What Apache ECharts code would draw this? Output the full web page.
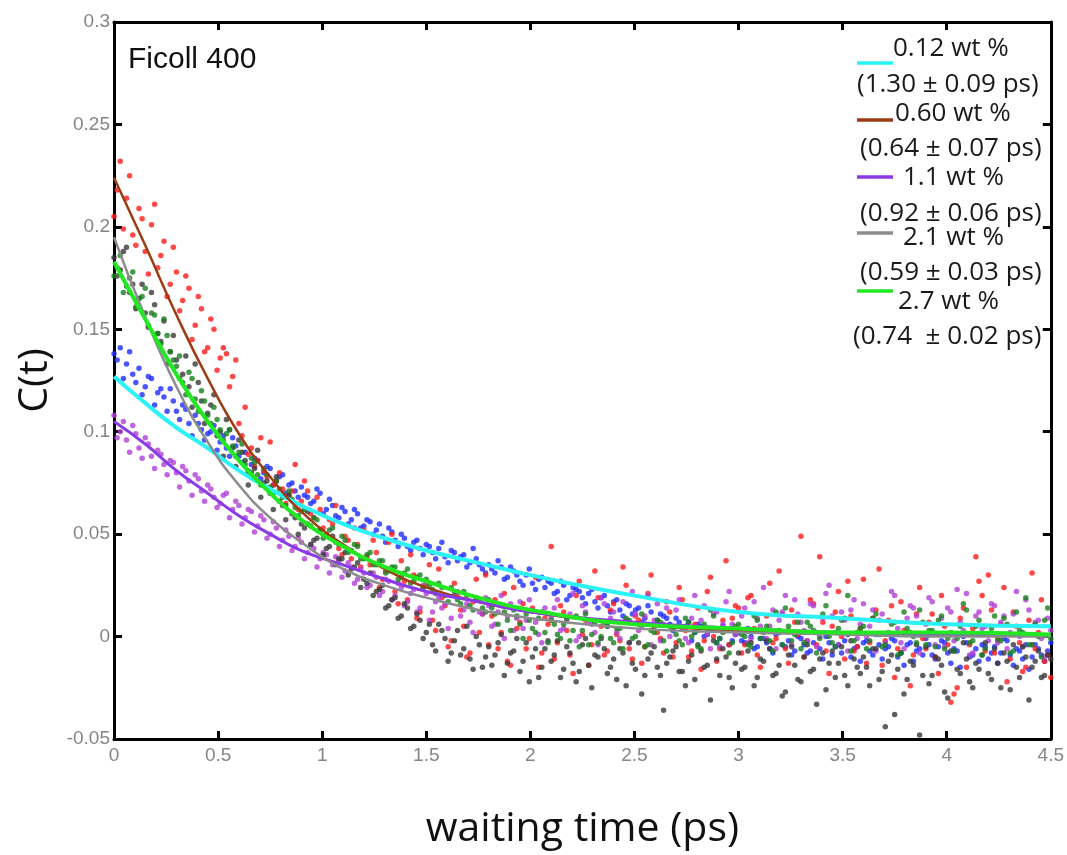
<!DOCTYPE html>
<html>
<head>
<meta charset="utf-8">
<script src="https://cdn.jsdelivr.net/npm/echarts@6/dist/echarts.min.js"></script>
<style>
html,body{margin:0;padding:0;background:#fff;}
#chart{width:1067px;height:855px;}
</style>
</head>
<body>
<div id="chart"></div>
<script>
// ---- data: scatter values in units of 0.001 ----
// set A sampled at t = 0, 0.03, ... 4.5 ps ; set B sampled at t = 0.015, 0.045, ... 4.485 ps
const sampleStep = 0.03;
const offsetA = 0;
const offsetB = 0.015;

const blue012A = [
138,141,133,128,131,122,126,119,117,121,
110,113,104,108,101,99,103,95,92,97,
88,90,84,86,80,82,76,79,74,71,
73,68,66,70,62,64,58,61,57,60,
54,56,52,49,53,47,50,44,46,43,
45,41,43,39,42,37,40,36,38,33,
35,31,34,29,32,27,30,26,28,24,
26,22,25,20,23,19,21,17,19,15,
17,13,16,11,14,9,12,8,10,6,
9,4,7,2,5,1,4,-1,3,-2,
2,-3,0,-5,-1,-6,1,-4,-2,-7,
-1,-8,-3,-6,0,-9,-4,-2,-10,-5,
-3,-7,1,-11,-5,-2,-8,-4,-12,-6,
-1,-9,-5,-3,-13,-7,0,-10,-6,-4,
-11,-5,-8,-2,-14,-7,-4,-10,-6,-12,-3];
const blue012B = [
135,126,139,124,118,127,113,121,110,115,
106,111,98,104,96,100,91,98,88,93,
85,81,87,77,83,74,78,70,75,68,
69,65,72,60,67,59,63,55,62,53,
57,50,55,46,51,44,48,42,47,40,
44,38,46,36,41,39,34,43,35,31,
33,37,28,34,30,25,33,23,29,27,
21,27,18,24,22,16,23,14,20,12,
18,10,15,13,7,15,5,11,9,3,
7,5,-2,6,0,3,-3,5,-4,1,
-2,4,-6,-1,-3,-8,2,-5,-9,0,
-4,-7,2,-11,-3,-5,-8,1,-6,-12,
-2,-9,-4,-6,-1,-10,-14,-3,-7,-9,
-4,-11,-2,-8,-6,-15,-3,-9,-12,-5,
-8,-13,-1,-9,-6,-11,-16,-4,-9,-7];

const red060A = [
205,232,214,196,209,188,201,180,193,172,
178,164,170,152,160,141,150,136,138,127,
104,112,92,86,81,95,76,72,69,84,
66,71,58,62,50,55,43,49,38,45,
52,35,41,28,46,22,37,18,30,12,
26,8,33,15,-2,21,5,-8,28,11,
-4,18,2,-12,24,7,-6,14,-15,9,
44,-3,12,-9,20,1,-14,32,5,-7,
16,-2,25,-11,8,-5,30,2,-8,12,
-3,18,-10,6,-16,22,0,-6,37,9,
14,-4,20,-9,3,26,-1,11,-13,7,
49,-2,16,39,-7,5,22,-11,10,-5,
28,-3,13,-14,8,-20,17,2,-9,24,
-6,11,-18,5,-32,-25,14,-4,39,20,
30,-8,6,-22,12,-3,-15,31,2,-12,-20];
const red060B = [
218,199,225,191,204,177,211,186,166,190,
159,176,145,166,139,155,130,141,122,135,
98,89,83,97,78,74,80,65,71,62,
76,60,68,53,57,64,40,47,53,34,
39,47,24,32,50,16,27,40,9,24,
35,3,19,-5,26,13,-10,17,2,30,
10,-6,21,-14,4,16,-1,29,-8,6,
-11,15,3,-18,27,8,-4,19,-9,13,
1,34,-6,10,-13,21,5,-1,17,-10,
24,3,-7,14,-2,29,-12,8,-4,15,
-8,19,4,-15,10,-3,32,-6,13,1,
-10,18,-4,7,-18,12,0,27,-7,4,
-13,9,33,-2,15,-6,3,-24,11,-1,
7,-10,20,-4,-28,9,-15,4,27,-7,
13,-2,24,-11,5,-17,8,-6,18,-9];

const purple11A = [
108,100,96,103,92,97,88,91,84,86,
80,83,76,79,71,74,68,65,70,62,
64,58,61,54,57,50,53,47,49,44,
46,41,43,38,40,35,37,32,34,28,
31,25,29,22,27,20,24,17,23,14,
21,12,19,16,9,22,13,7,18,11,
15,6,20,10,3,17,8,13,1,14,
9,18,4,11,-2,15,7,2,19,5,
12,-1,8,22,3,10,-4,16,6,0,
13,4,-3,20,8,1,11,-5,17,6,
2,14,-1,9,24,5,-6,12,3,18,
7,-2,15,0,21,10,-4,8,13,-1,
16,5,-7,11,2,20,-3,9,14,-8,
6,17,1,-5,12,23,3,-9,10,4,
-2,15,7,-6,11,0,18,-4,8,-10,3];
const purple11B = [
97,105,90,99,87,94,82,89,79,85,
73,81,69,77,66,72,63,69,58,66,
55,62,51,59,48,56,44,52,42,48,
38,45,34,41,31,39,29,36,26,33,
24,31,20,28,18,26,15,21,12,25,
8,17,14,4,20,10,16,2,12,19,
5,12,-1,16,9,4,18,7,-3,11,
14,3,8,21,0,12,6,-4,16,9,
2,17,-3,11,5,20,8,-2,14,4,
18,-1,9,3,15,-6,12,6,22,1,
10,-3,17,5,-1,13,8,20,-4,11,
3,16,-5,9,25,2,12,-7,18,6,
0,13,8,-3,22,4,-6,15,10,1,
19,-4,9,14,-2,7,21,-8,12,5,
16,-3,10,2,22,-5,13,7,-1,9];

const gray21A = [
185,179,190,172,165,158,168,148,154,139,
135,128,122,133,115,109,118,100,106,92,
96,86,80,91,75,70,78,64,69,58,
55,61,47,52,43,49,38,41,33,36,
28,31,22,25,15,19,10,14,5,8,
2,-4,6,-1,-8,3,-6,-11,0,-15,
-5,-9,1,-13,-7,-17,-3,-10,-20,-6,
-12,-2,-16,-8,-22,-4,-14,-9,-1,-18,
-11,-6,-24,-13,-3,-19,-8,-15,-36,-10,
-5,-17,-12,-21,-7,-14,-2,-19,-10,-25,
-8,-15,-3,-20,-12,-6,-18,-29,-9,-14,
-22,-4,-16,-11,-26,-7,-13,-19,-2,-15,
-10,-24,-6,-17,-12,-38,-8,-21,-14,-48,
-5,-19,-11,-27,-7,-16,-3,-22,-13,-9,
-18,-6,-25,-12,-4,-20,-10,-15,-7,-19,-11];
const gray21B = [
176,188,168,160,172,151,162,144,133,147,
126,137,112,124,104,113,98,88,101,83,
90,74,82,68,76,62,66,57,60,50,
53,45,48,40,44,35,38,30,34,24,
26,20,23,14,18,9,16,4,11,-1,
6,-7,3,-12,-2,-9,5,-16,-4,-10,
-14,-3,-19,-8,-1,-12,-22,-6,-15,-2,
-9,-20,-5,-13,-17,-1,-25,-10,-6,-15,
-21,-8,-3,-16,-28,-11,-5,-19,-13,-7,
-17,-24,-9,-4,-15,-31,-11,-6,-20,-13,
-16,-7,-24,-11,-2,-19,-14,-27,-5,-21,
-10,-17,-33,-8,-13,-20,-5,-24,-11,-18,
-15,-6,-21,-44,-9,-16,-28,-12,-4,-19,
-23,-10,-14,-30,-7,-18,-11,-25,-16,-3,
-21,-13,-8,-26,-15,-5,-31,-12,-20,-9];

const green27A = [
176,186,171,178,165,170,158,148,155,139,
132,124,129,116,120,108,112,101,99,93,
90,84,87,79,82,73,76,68,71,63,
61,55,58,52,49,53,45,47,42,44,
38,41,35,37,32,34,29,33,27,30,
28,23,26,20,24,18,22,15,19,14,
18,11,15,8,13,6,11,4,9,2,
8,1,6,-2,10,3,-4,7,0,5,
-3,4,9,-1,6,-5,3,8,-2,5,
1,-4,7,2,-6,4,10,-1,3,-3,
6,0,-5,8,2,-2,12,-4,5,1,
-6,7,3,-1,15,-3,4,9,-7,2,
5,-2,11,-5,1,7,-8,4,0,13,
-4,3,8,-6,2,-1,16,-3,5,-9,
1,10,-2,6,-7,3,19,-4,0,8,-1];
const green27B = [
180,168,175,161,166,152,157,143,147,135,
137,118,126,110,115,104,106,96,101,88,
94,80,85,74,79,70,72,64,67,59,
62,54,57,48,52,46,49,41,45,38,
40,35,37,31,34,28,31,26,29,24,
25,21,24,17,22,16,20,13,18,12,
14,6,12,3,10,-1,8,2,12,-3,
6,-1,9,3,-5,11,1,-3,7,-1,
4,-6,8,0,11,-4,2,7,-7,4,
-2,9,0,-5,6,13,-3,2,-8,5,
1,-4,10,-1,5,-7,3,14,-2,7,
-3,5,-8,11,0,-5,8,20,-2,4,
-6,9,1,-4,6,-9,12,2,-3,7,
3,-5,10,-1,-7,5,13,-2,8,-6,
4,-1,9,-8,12,2,-4,6,-10,14];

// fitted curves
const fitTimes  = [0, 0.15, 0.3, 0.45, 0.6, 0.75, 0.9, 1.1, 1.3, 1.5, 1.75, 2, 2.5, 3, 3.5, 4, 4.5];
const fitCyan   = [0.127,0.114,0.102,0.092,0.081,0.072,0.064,0.055,0.048,0.042,0.036,0.030,0.020,0.012,0.009,0.006,0.005];
const fitBrown  = [0.224,0.191,0.157,0.126,0.099,0.078,0.061,0.045,0.033,0.024,0.017,0.012,0.006,0.003,0.002,0.001,0.001];
const fitPurple = [0.105,0.094,0.081,0.070,0.059,0.050,0.042,0.035,0.028,0.022,0.017,0.012,0.007,0.004,0.002,0.001,0.001];
const fitGray   = [0.195,0.156,0.122,0.095,0.074,0.058,0.046,0.033,0.025,0.019,0.013,0.009,0.004,0.002,0.001,0.000,0.000];
const fitGreen  = [0.183,0.155,0.128,0.105,0.086,0.070,0.057,0.044,0.034,0.027,0.019,0.013,0.006,0.004,0.002,0.002,0.001];

const legendLabels = ['0.12 wt %', '0.60 wt %', '1.1 wt %', '2.1 wt %', '2.7 wt %'];
const legendTaus   = ['(1.30 ± 0.09 ps)', '(0.64 ± 0.07 ps)', '(0.92 ± 0.06 ps)', '(0.59 ± 0.03 ps)', '(0.74  ± 0.02 ps)'];
const xTicks = { min: 0, max: 4.5, step: 0.5 };
const yTicks = { min: -0.05, max: 0.3, step: 0.05 };
const panelTitle = 'Ficoll 400';
const xTitle = 'waiting time (ps)';
const yTitle = 'C(t)';

// ---- build ----
function toPairs(arr, off) {
  return arr.map((v, i) => [+(off + i * sampleStep).toFixed(3), v / 1000]);
}
function fitPairs(arr) { return fitTimes.map((t, i) => [t, arr[i]]); }

const scatterDefs = [
  { a: blue012A,  b: blue012B,  c: '#1e2cff' },
  { a: red060A,   b: red060B,   c: '#ff1a1a' },
  { a: purple11A, b: purple11B, c: '#b13fd6' },
  { a: gray21A,   b: gray21B,   c: '#383838' },
  { a: green27A,  b: green27B,  c: '#18801e' }
];
const fitDefs = [
  { d: fitCyan,   c: '#2af2f6', w: 4 },
  { d: fitBrown,  c: '#9c3c12', w: 2.5 },
  { d: fitPurple, c: '#8a3be6', w: 3 },
  { d: fitGray,   c: '#8c8c8c', w: 2.5 },
  { d: fitGreen,  c: '#22e822', w: 4 }
];
const legendColors = ['#2af2f6', '#9c3c12', '#8a3be6', '#8c8c8c', '#22e822'];

const series = [];
scatterDefs.forEach(s => series.push({
  type: 'scatter', data: toPairs(s.a, offsetA).concat(toPairs(s.b, offsetB)),
  symbol: 'circle', symbolSize: 5.5,
  itemStyle: { color: s.c }, silent: true, z: 2
}));
fitDefs.forEach(s => series.push({
  type: 'line', data: fitPairs(s.d), smooth: 0.5, showSymbol: false,
  lineStyle: { color: s.c, width: s.w }, silent: true, z: 3
}));

const tickFmt = v => String(Math.round(v * 100) / 100);
const axisCommon = {
  type: 'value',
  axisLine: { show: true, onZero: false, lineStyle: { color: '#000', width: 3 } },
  axisTick: { show: true, inside: true, length: 8, lineStyle: { color: '#000', width: 3 } },
  splitLine: { show: false }
};
const labelFont = { color: '#858585', fontSize: 19, fontFamily: '"Liberation Sans Narrow", "Liberation Sans", Arial, sans-serif' };

// legend graphics
const lineY = [63, 120, 177, 233, 291];
const labelPos = [[893, 49], [895, 114], [903, 178], [903, 238], [898, 302]];
const tauPos = [[857, 85], [860, 149], [860, 214], [860, 273], [853, 337]];
const legendFont = '26px "Open Sans", "Noto Sans", sans-serif';
const graphic = [];
legendLabels.forEach((lab, i) => {
  graphic.push({ type: 'line', shape: { x1: 857, y1: lineY[i], x2: 893, y2: lineY[i] },
    style: { stroke: legendColors[i], lineWidth: 3.5 }, z: 10 });
  graphic.push({ type: 'text', x: labelPos[i][0], y: labelPos[i][1],
    style: { text: lab, font: legendFont, fill: '#1a1a1a', verticalAlign: 'middle', align: 'left' }, z: 10 });
  graphic.push({ type: 'text', x: tauPos[i][0], y: tauPos[i][1],
    style: { text: legendTaus[i], font: legendFont, fill: '#1a1a1a', verticalAlign: 'middle', align: 'left' }, z: 10 });
});
graphic.push({ type: 'text', x: 128, y: 60,
  style: { text: panelTitle, font: '30px "Liberation Sans", Arial, sans-serif', fill: '#111', verticalAlign: 'middle' }, z: 10 });

const chart = echarts.init(document.getElementById('chart'), null, { renderer: 'canvas' });
chart.setOption({
  backgroundColor: '#ffffff',
  animation: false,
  grid: { left: 114, right: 16, top: 22, bottom: 115, containLabel: false },
  xAxis: [
    Object.assign({}, axisCommon, {
      min: xTicks.min, max: xTicks.max, interval: xTicks.step, position: 'bottom',
      axisLabel: Object.assign({ margin: 7, formatter: tickFmt }, labelFont),
      name: xTitle, nameLocation: 'middle', nameGap: 70,
      nameTextStyle: { fontSize: 41, color: '#111', fontFamily: '"Open Sans", "Noto Sans", sans-serif' }
    }),
    Object.assign({}, axisCommon, {
      min: xTicks.min, max: xTicks.max, interval: xTicks.step, position: 'top',
      axisLabel: { show: false }
    })
  ],
  yAxis: [
    Object.assign({}, axisCommon, {
      min: yTicks.min, max: yTicks.max, interval: yTicks.step, position: 'left',
      axisLabel: Object.assign({ margin: 4, formatter: tickFmt }, labelFont),
      name: yTitle, nameLocation: 'middle', nameGap: 58,
      nameTextStyle: { fontSize: 41, color: '#111', fontFamily: '"Open Sans", "Noto Sans", sans-serif' }
    }),
    Object.assign({}, axisCommon, {
      min: yTicks.min, max: yTicks.max, interval: yTicks.step, position: 'right',
      axisLabel: { show: false }
    })
  ],
  graphic: graphic,
  series: series
});
</script>
</body>
</html>
